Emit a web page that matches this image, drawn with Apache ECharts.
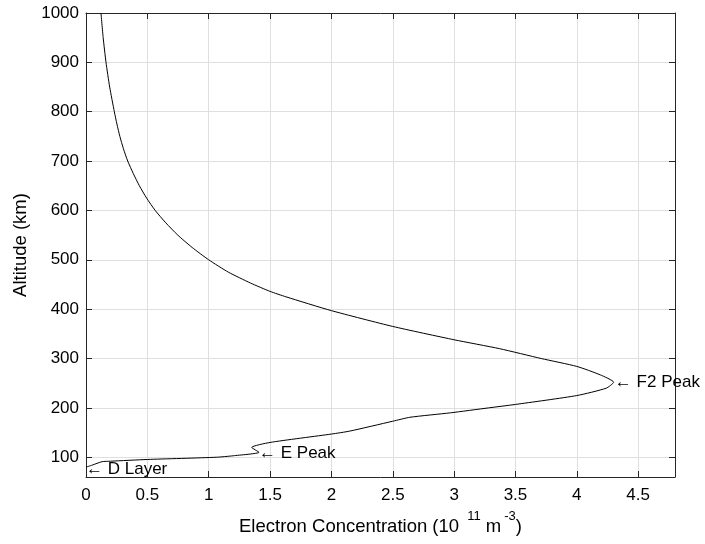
<!DOCTYPE html>
<html>
<head>
<meta charset="utf-8">
<script src="https://cdn.jsdelivr.net/npm/echarts@6/dist/echarts.min.js"></script>
<style>
html,body{margin:0;padding:0;background:#ffffff;}
#c{width:705px;height:544px;}
</style>
</head>
<body>
<div id="c"></div>
<script>
// Electron concentration (1e11 m^-3) and altitude (km) along the profile
const ne  = [0.00, 0.05, 0.13, 0.20, 0.50, 1.06, 1.20, 1.41, 1.35, 1.50, 2.00, 2.15, 2.50, 2.64, 2.97, 3.28, 3.50, 4.00, 4.24, 4.30, 4.19, 4.00, 3.71, 3.37, 3.00, 2.50, 2.00, 1.63, 1.50, 1.34, 1.16, 1.00, 0.865, 0.748, 0.65, 0.564, 0.494, 0.435, 0.385, 0.340, 0.305, 0.276, 0.252, 0.231, 0.193, 0.163, 0.140, 0.122];
const alt = [80,   84,   91,   92,   95.5, 100,  103,  110,  120,  130,  147,  153,  173,  181,  190,  200,  207,  225,  240,  252,  267,  284,  300,  320,  338,  365,  397,  425,  436,  453,  475,  500,  525,   550,   575,  600,   625,   650,   675,   700,   725,   750,   775,   800,   850,   900,   950,   1000];

// Annotations
const annoX    = [4.31, 1.41, 0.00];
const annoY    = [251, 108, 75];
const annoText = ['\u2190 F2 Peak', '\u2190 E Peak', '\u2190 D Layer'];

// Axis ranges
const xMin = 0, xMax = 4.8, xStep = 0.5;
const yMin = 60, yMax = 1000;

const profile = ne.map((v, i) => [v, alt[i]]);
const annos = annoX.map((v, i) => ({ value: [v, annoY[i]], label: { formatter: annoText[i] } }));

const FONT = '"Liberation Sans", Arial, Helvetica, sans-serif';
const AX = '#262626';
const GRID = '#dfdfdf';

const chart = echarts.init(document.getElementById('c'), null, { renderer: 'canvas' });
chart.setOption({
  backgroundColor: '#ffffff',
  animation: false,
  grid: { left: 86, right: 30, top: 13, bottom: 67, containLabel: false },
  xAxis: [{
    type: 'value', min: xMin, max: xMax, interval: xStep, position: 'bottom',
    name: '{b|Electron Concentration (10 }{s|11}{b| m}{s|-3}{b|)}',
    nameLocation: 'middle', nameGap: 33,
    nameTextStyle: {
      rich: {
        b: { fontFamily: FONT, fontSize: 18.5, color: '#000', lineHeight: 26, verticalAlign: 'bottom' },
        s: { fontFamily: FONT, fontSize: 13, color: '#000', lineHeight: 26, verticalAlign: 'top', padding: [0, 0, 0, 3] }
      }
    },
    axisLine: { show: true, onZero: false, lineStyle: { color: AX, width: 1 } },
    axisTick: { show: true, inside: true, length: 6, lineStyle: { color: AX } },
    axisLabel: { show: true, margin: 10, fontFamily: FONT, fontSize: 17, color: '#000', showMaxLabel: false,
      formatter: v => String(Math.round(v * 10) / 10) },
    splitLine: { show: true, lineStyle: { color: GRID, width: 1 } }
  }, {
    type: 'value', min: xMin, max: xMax, interval: xStep, position: 'top',
    axisLine: { show: true, onZero: false, lineStyle: { color: AX, width: 1 } },
    axisTick: { show: true, inside: true, length: 6, lineStyle: { color: AX } },
    axisLabel: { show: false },
    splitLine: { show: false }
  }],
  yAxis: [{
    type: 'value', min: yMin, max: yMax, splitNumber: 10, position: 'left',
    name: 'Altitude (km)', nameLocation: 'middle', nameGap: 50,
    nameTextStyle: { fontFamily: FONT, fontSize: 18.5, color: '#000' },
    axisLine: { show: true, onZero: false, lineStyle: { color: AX, width: 1 } },
    axisTick: { show: true, inside: true, length: 6, lineStyle: { color: AX } },
    axisLabel: { show: true, margin: 7, fontFamily: FONT, fontSize: 17, color: '#000', showMinLabel: false,
      formatter: v => String(v) },
    splitLine: { show: true, lineStyle: { color: GRID, width: 1 } }
  }, {
    type: 'value', min: yMin, max: yMax, splitNumber: 10, position: 'right',
    axisLine: { show: true, onZero: false, lineStyle: { color: AX, width: 1 } },
    axisTick: { show: true, inside: true, length: 6, lineStyle: { color: AX } },
    axisLabel: { show: false },
    splitLine: { show: false }
  }],
  series: [{
    type: 'line', xAxisIndex: 0, yAxisIndex: 0,
    data: profile, showSymbol: false, symbol: 'none', smooth: 0.2,
    lineStyle: { color: '#000', width: 1 }, z: 3
  }, {
    type: 'scatter', xAxisIndex: 0, yAxisIndex: 0,
    data: annos, symbolSize: 0, z: 4, itemStyle: { color: '#000', opacity: 1 },
    label: { show: true, position: 'right', distance: 0, fontFamily: FONT, fontSize: 17, color: '#000' }
  }]
});
</script>
</body>
</html>
